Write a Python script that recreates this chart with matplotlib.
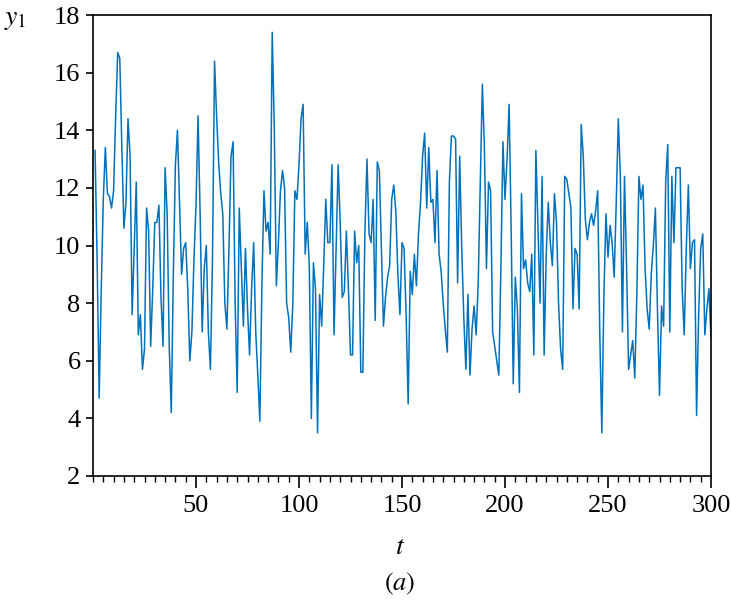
import numpy as np
import matplotlib
matplotlib.use("Agg")
import matplotlib.pyplot as plt
from matplotlib.ticker import MultipleLocator

# Series y1, t = 1..300
y1 = [
    13.3, 9.5, 4.7, 8.5, 11.6, 13.4, 11.8, 11.7, 11.3, 11.9,
    14.5, 16.7, 16.5, 13.4, 10.6, 11.5, 14.4, 13.1, 7.6, 9.9,
    12.2, 6.9, 7.6, 5.7, 6.4, 11.3, 10.5, 6.5, 8.5, 10.8,
    10.8, 11.4, 8.2, 6.5, 12.7, 11.1, 6.5, 4.2, 9.0, 12.8,
    14.0, 11.5, 9.0, 9.9, 10.1, 8.5, 6.0, 7.0, 9.5, 11.4,
    14.5, 11.1, 7.0, 9.2, 10.0, 7.0, 5.7, 9.5, 16.4, 14.5,
    12.9, 11.8, 11.1, 8.0, 7.1, 9.9, 13.1, 13.6, 8.0, 4.9,
    11.3, 9.2, 7.2, 9.9, 7.8, 6.2, 8.5, 10.1, 7.0, 5.5,
    3.9, 8.7, 11.9, 10.5, 10.8, 9.7, 17.4, 14.1, 8.6, 10.1,
    11.9, 12.6, 12.0, 8.0, 7.5, 6.3, 8.0, 11.9, 11.6, 12.8,
    14.4, 14.9, 9.7, 10.8, 9.3, 4.0, 9.4, 8.5, 3.5, 8.3,
    7.2, 9.3, 11.6, 10.1, 10.1, 12.8, 6.9, 9.9, 12.8, 10.8,
    8.2, 8.4, 10.5, 8.5, 6.2, 6.2, 10.5, 9.4, 10.0, 5.6,
    5.6, 10.5, 13.0, 10.4, 10.1, 11.6, 7.4, 12.9, 12.6, 9.9,
    7.2, 8.2, 8.9, 9.3, 11.6, 12.1, 11.2, 9.0, 7.6, 10.1,
    9.9, 7.6, 4.5, 9.1, 8.3, 9.7, 8.6, 10.4, 11.5, 13.1,
    13.9, 11.3, 13.4, 11.5, 11.6, 10.1, 12.6, 9.7, 9.1, 8.0,
    7.1, 6.3, 12.2, 13.8, 13.8, 13.7, 8.7, 13.1, 9.9, 7.5,
    5.7, 8.3, 5.5, 7.1, 7.9, 6.9, 8.7, 12.2, 15.6, 13.4,
    9.2, 12.2, 11.9, 7.0, 6.5, 6.0, 5.5, 9.2, 13.6, 11.6,
    13.0, 14.9, 10.5, 5.2, 8.9, 7.8, 4.9, 11.8, 9.2, 9.5,
    8.7, 8.4, 9.7, 6.2, 13.3, 10.7, 8.0, 12.4, 6.2, 9.7,
    11.5, 10.1, 9.3, 11.8, 10.8, 8.0, 6.4, 5.7, 12.4, 12.3,
    11.8, 11.3, 7.8, 9.9, 9.7, 7.8, 14.2, 13.1, 10.9, 10.2,
    10.8, 11.1, 10.7, 11.2, 11.9, 7.0, 3.5, 8.2, 11.1, 9.6,
    10.7, 10.1, 8.9, 11.5, 14.4, 12.4, 7.0, 12.4, 9.3, 5.7,
    6.2, 6.7, 5.4, 8.3, 12.4, 11.6, 12.1, 9.2, 7.8, 7.1,
    9.0, 10.0, 11.3, 7.8, 4.8, 7.9, 7.2, 12.2, 13.5, 7.0,
    12.4, 10.1, 12.7, 12.7, 12.7, 8.5, 6.9, 9.9, 12.1, 9.2,
    10.1, 10.2, 4.1, 7.6, 9.9, 10.4, 6.9, 7.8, 8.5, 6.8,
]
t = np.arange(1, len(y1) + 1)

x_ticks = [50, 100, 150, 200, 250, 300]
y_ticks = [2, 4, 6, 8, 10, 12, 14, 16, 18]

plt.rcParams["font.family"] = ["Liberation Serif", "DejaVu Serif"]
plt.rcParams["mathtext.fontset"] = "stix"

fig = plt.figure(figsize=(7.31, 6.0), dpi=100)
ax = fig.add_axes([93 / 731, 1 - 476 / 600, (711 - 93) / 731, (476 - 15) / 600])

ax.plot(t, y1, color="#0072BD", linewidth=1.1)

ax.set_xlim(0, 300)
ax.set_ylim(2, 18)
ax.set_xticks(x_ticks)
ax.set_yticks(y_ticks)
ax.xaxis.set_minor_locator(MultipleLocator(5))

for side in ["left", "right", "top", "bottom"]:
    ax.spines[side].set_linewidth(1.2)

ax.tick_params(axis="x", which="major", direction="out", length=8.5, width=1.2,
               labelsize=19, pad=5)
ax.tick_params(axis="x", which="minor", direction="out", length=4, width=1.0)
ax.tick_params(axis="y", which="major", direction="out", length=5, width=1.2,
               labelsize=19, pad=4)

fig.text(15 / 731, 1 - 20 / 600, r"$y_1$", fontsize=20, ha="center", va="center")
fig.text(400 / 731, 1 - 547 / 600, r"$t$", fontsize=20, ha="center", va="center")
fig.text(400 / 731, 1 - 584 / 600, r"$(a)$", fontsize=19, ha="center", va="center")

fig.savefig("out.png", dpi=100)
